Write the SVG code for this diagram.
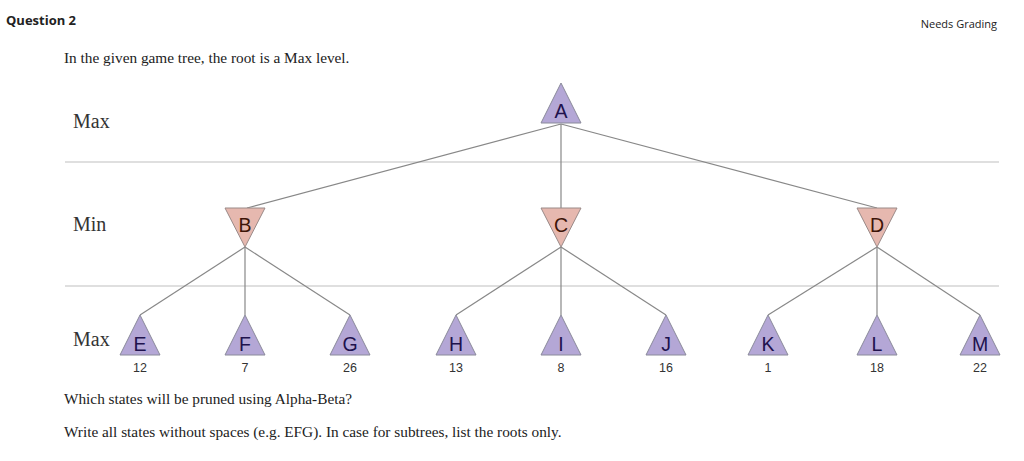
<svg xmlns="http://www.w3.org/2000/svg" width="1024" height="461" viewBox="0 0 1024 461">
<style>
.hdr{font-family:"Open Sans","Liberation Sans",sans-serif;fill:#222}
.serif{font-family:"Liberation Serif","Times New Roman",serif;fill:#222}
.lvl{font-family:"Liberation Serif","Times New Roman",serif;font-size:20px;fill:#333}
.max{fill:#b4a7d6;stroke:#8a8a9a;stroke-width:1}
.min{fill:#e6b8af;stroke:#9a8a88;stroke-width:1}
.lbl{font-family:"Liberation Sans",Arial,sans-serif;font-size:19.5px;text-anchor:middle}
.lmax{fill:#20124d}
.lmin{fill:#3d1408}
.val{font-family:"Liberation Sans",Arial,sans-serif;font-size:12.5px;text-anchor:middle;fill:#333}
.edge{stroke:#888;stroke-width:1.2;fill:none}
.sep{stroke:#d4d4d4;stroke-width:1.5}
</style>
<rect width="1024" height="461" fill="#fff"/>
<text class="hdr" x="6" y="25" font-size="13" font-weight="bold">Question 2</text>
<text class="hdr" x="997" y="28" font-size="11" text-anchor="end" fill="#444">Needs Grading</text>
<text class="serif" x="64" y="63" font-size="15.3">In the given game tree, the root is a Max level.</text>
<text class="lvl" x="73" y="128">Max</text>
<text class="lvl" x="73" y="231">Min</text>
<text class="lvl" x="73" y="346">Max</text>
<line class="sep" x1="65" y1="162" x2="999" y2="162"/>
<line class="sep" x1="65" y1="286" x2="999" y2="286"/>
<g id="connectors">
<line class="edge" x1="561" y1="124" x2="247" y2="208"/>
<line class="edge" x1="561" y1="124" x2="561" y2="208"/>
<line class="edge" x1="561" y1="124" x2="877" y2="208"/>
<line class="edge" x1="245" y1="247" x2="140" y2="315"/>
<line class="edge" x1="245" y1="247" x2="245" y2="315"/>
<line class="edge" x1="245" y1="247" x2="350" y2="315"/>
<line class="edge" x1="561" y1="247" x2="456" y2="315"/>
<line class="edge" x1="561" y1="247" x2="561" y2="315"/>
<line class="edge" x1="561" y1="247" x2="666" y2="315"/>
<line class="edge" x1="877" y1="247" x2="768" y2="315"/>
<line class="edge" x1="877" y1="247" x2="877" y2="315"/>
<line class="edge" x1="877" y1="247" x2="980" y2="315"/>
</g>
<g id="A"><polygon class="max" points="561,83 581,123 541,123"/><text class="lbl lmax" x="561" y="118">A</text></g>
<g id="B"><polygon class="min" points="225,208 265,208 245,247"/><text class="lbl lmin" x="245" y="232">B</text></g>
<g id="C"><polygon class="min" points="541,208 581,208 561,247"/><text class="lbl lmin" x="561" y="232">C</text></g>
<g id="D"><polygon class="min" points="857,208 897,208 877,247"/><text class="lbl lmin" x="877" y="232">D</text></g>
<g id="E"><polygon class="max" points="140,315 160,355 120,355"/><text class="lbl lmax" x="140" y="351">E</text><text class="val" x="140" y="372">12</text></g>
<g id="F"><polygon class="max" points="245,315 265,355 225,355"/><text class="lbl lmax" x="245" y="351">F</text><text class="val" x="245" y="372">7</text></g>
<g id="G"><polygon class="max" points="350,315 370,355 330,355"/><text class="lbl lmax" x="350" y="351">G</text><text class="val" x="350" y="372">26</text></g>
<g id="H"><polygon class="max" points="456,315 476,355 436,355"/><text class="lbl lmax" x="456" y="351">H</text><text class="val" x="456" y="372">13</text></g>
<g id="I"><polygon class="max" points="561,315 581,355 541,355"/><text class="lbl lmax" x="561" y="351">I</text><text class="val" x="561" y="372">8</text></g>
<g id="J"><polygon class="max" points="666,315 686,355 646,355"/><text class="lbl lmax" x="666" y="351">J</text><text class="val" x="666" y="372">16</text></g>
<g id="K"><polygon class="max" points="768,315 788,355 748,355"/><text class="lbl lmax" x="768" y="351">K</text><text class="val" x="768" y="372">1</text></g>
<g id="L"><polygon class="max" points="877,315 897,355 857,355"/><text class="lbl lmax" x="877" y="351">L</text><text class="val" x="877" y="372">18</text></g>
<g id="M"><polygon class="max" points="980,315 1000,355 960,355"/><text class="lbl lmax" x="980" y="351">M</text><text class="val" x="980" y="372">22</text></g>
<text class="serif" x="64" y="404" font-size="15.3">Which states will be pruned using Alpha-Beta?</text>
<text class="serif" x="64" y="437" font-size="15.3">Write all states without spaces (e.g. EFG). In case for subtrees, list the roots only.</text>
</svg>
